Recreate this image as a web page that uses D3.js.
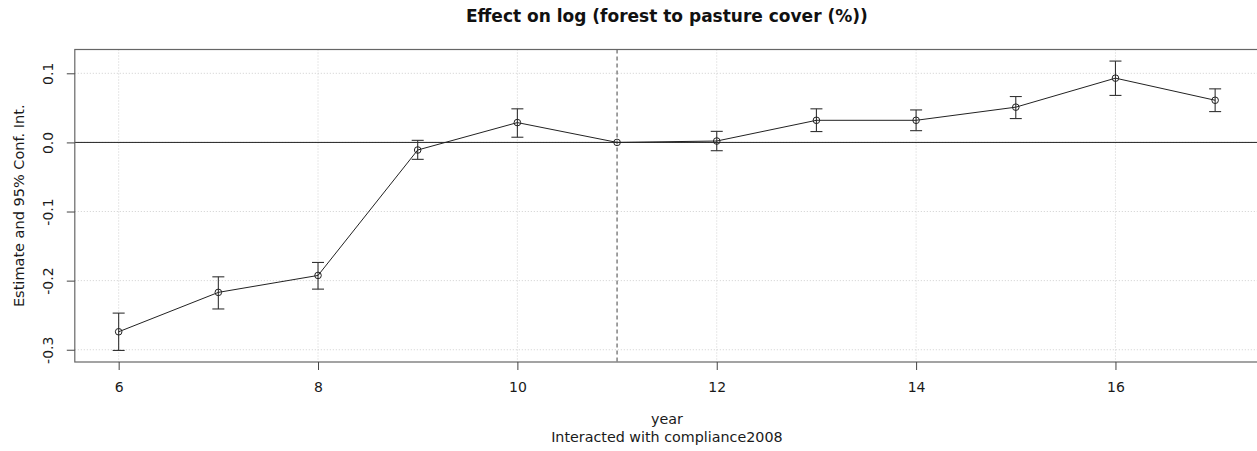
<!DOCTYPE html>
<html>
<head>
<meta charset="utf-8">
<script src="https://cdn.jsdelivr.net/npm/d3@7"></script>
<style>
  html, body { margin: 0; padding: 0; background: #fff; }
  svg { display: block; font-family: "DejaVu Sans", sans-serif; }
</style>
</head>
<body>
<svg id="chart" width="1257" height="451"></svg>
<script>
const years = [6, 7, 8, 9, 10, 11, 12, 13, 14, 15, 16, 17];
const estimates = [-0.274, -0.217, -0.1925, -0.011, 0.0287, 0, 0.002, 0.032, 0.032, 0.051, 0.093, 0.061];
const ciLower = [-0.301, -0.241, -0.2123, -0.0245, 0.0075, 0, -0.012, 0.0157, 0.017, 0.0345, 0.068, 0.0446];
const ciUpper = [-0.247, -0.1945, -0.1737, 0.003, 0.0486, 0, 0.016, 0.0486, 0.047, 0.0664, 0.1177, 0.0775];
const xTicks = [6, 8, 10, 12, 14, 16];
const yTicks = [-0.3, -0.2, -0.1, 0.0, 0.1];
const yTickLabels = ["-0.3", "-0.2", "-0.1", "0.0", "0.1"];
const refYear = 11;
const titleText = "Effect on log (forest to pasture cover (%))";
const yTitle = "Estimate and 95% Conf. Int.";
const xTitle1 = "year";
const xTitle2 = "Interacted with compliance2008";

(function () {
const svg = d3.select("#chart");
const pl = 74.8, pr = 1259, pt = 49.5, pb = 362;

const xmin = d3.min(years), xmax = d3.max(years);
const xpad = (xmax - xmin) * 0.04;
const x = d3.scaleLinear().domain([xmin - xpad, xmax + xpad]).range([pl, pr]);
const ymin = d3.min(ciLower), ymax = d3.max(ciUpper);
const ypad = (ymax - ymin) * 0.04;
const y = d3.scaleLinear().domain([ymin - ypad, ymax + ypad]).range([pb, pt]);

const textColor = "#1a1a1a";

// grid
const grid = svg.append("g");
grid.selectAll("line.gx").data(xTicks).join("line")
  .attr("x1", d => x(d)).attr("x2", d => x(d))
  .attr("y1", pt).attr("y2", pb)
  .attr("stroke", "#cfcfcf").attr("stroke-width", 1).attr("stroke-dasharray", "1,2");
grid.selectAll("line.gy").data(yTicks).join("line")
  .attr("x1", pl).attr("x2", pr)
  .attr("y1", d => y(d)).attr("y2", d => y(d))
  .attr("stroke", "#cfcfcf").attr("stroke-width", 1).attr("stroke-dasharray", "1,2");

// zero line
svg.append("line")
  .attr("x1", pl).attr("x2", pr)
  .attr("y1", y(0)).attr("y2", y(0))
  .attr("stroke", "#222").attr("stroke-width", 1);

// reference dashed line
svg.append("line")
  .attr("x1", x(refYear)).attr("x2", x(refYear))
  .attr("y1", pt).attr("y2", pb)
  .attr("stroke", "#444").attr("stroke-width", 1).attr("stroke-dasharray", "4,3");

// box
svg.append("rect")
  .attr("x", pl).attr("y", pt)
  .attr("width", pr - pl).attr("height", pb - pt)
  .attr("fill", "none").attr("stroke", "#666").attr("stroke-width", 1.2);

// axes
const xAxis = d3.axisBottom(x).tickValues(xTicks).tickSize(8).tickFormat(d3.format("d"));
const gx = svg.append("g").attr("transform", `translate(0,${pb})`).call(xAxis);
gx.select(".domain").remove();
gx.selectAll(".tick line").attr("stroke", "#444");
gx.selectAll(".tick text").attr("font-size", 14).attr("fill", textColor)
  .attr("font-family", "DejaVu Sans").attr("y", 30).attr("dy", null);

const yAxis = d3.axisLeft(y).tickValues(yTicks).tickSize(8).tickFormat((d, i) => yTickLabels[i]);
const gy = svg.append("g").attr("transform", `translate(${pl},0)`).call(yAxis);
gy.select(".domain").remove();
gy.selectAll(".tick line").attr("stroke", "#444");
gy.selectAll(".tick text")
  .attr("font-size", 14).attr("fill", textColor).attr("font-family", "DejaVu Sans")
  .attr("x", null).attr("dy", null)
  .attr("text-anchor", "middle")
  .attr("transform", "translate(-21.5,0) rotate(-90)");

// data
const data = years.map((yr, i) => ({ yr, est: estimates[i], lo: ciLower[i], hi: ciUpper[i] }));

// error bars
const eb = svg.append("g").attr("stroke", "#333").attr("stroke-width", 1.1);
data.filter(d => d.hi !== d.lo).forEach(d => {
  eb.append("line").attr("x1", x(d.yr)).attr("x2", x(d.yr)).attr("y1", y(d.lo)).attr("y2", y(d.hi));
  eb.append("line").attr("x1", x(d.yr) - 6).attr("x2", x(d.yr) + 6).attr("y1", y(d.lo)).attr("y2", y(d.lo));
  eb.append("line").attr("x1", x(d.yr) - 6).attr("x2", x(d.yr) + 6).attr("y1", y(d.hi)).attr("y2", y(d.hi));
});

// line
svg.append("path").datum(data)
  .attr("d", d3.line().x(d => x(d.yr)).y(d => y(d.est)))
  .attr("fill", "none").attr("stroke", "#222").attr("stroke-width", 1);

// points
svg.append("g").selectAll("circle").data(data).join("circle")
  .attr("cx", d => x(d.yr)).attr("cy", d => y(d.est)).attr("r", 3.3)
  .attr("fill", "none").attr("stroke", "#222").attr("stroke-width", 1);

// titles
svg.append("text").attr("x", (pl + pr) / 2).attr("y", 22)
  .attr("text-anchor", "middle").attr("font-weight", "bold").attr("font-size", 17)
  .attr("fill", "#111").text(titleText);

svg.append("text").attr("transform", `translate(24,${(pt + pb) / 2}) rotate(-90)`)
  .attr("text-anchor", "middle").attr("font-size", 14.5).attr("fill", textColor).text(yTitle);

svg.append("text").attr("x", (pl + pr) / 2).attr("y", 424)
  .attr("text-anchor", "middle").attr("font-size", 14.3).attr("fill", textColor).text(xTitle1);
svg.append("text").attr("x", (pl + pr) / 2).attr("y", 442)
  .attr("text-anchor", "middle").attr("font-size", 14.3).attr("fill", textColor).text(xTitle2);
})();
</script>
</body>
</html>
